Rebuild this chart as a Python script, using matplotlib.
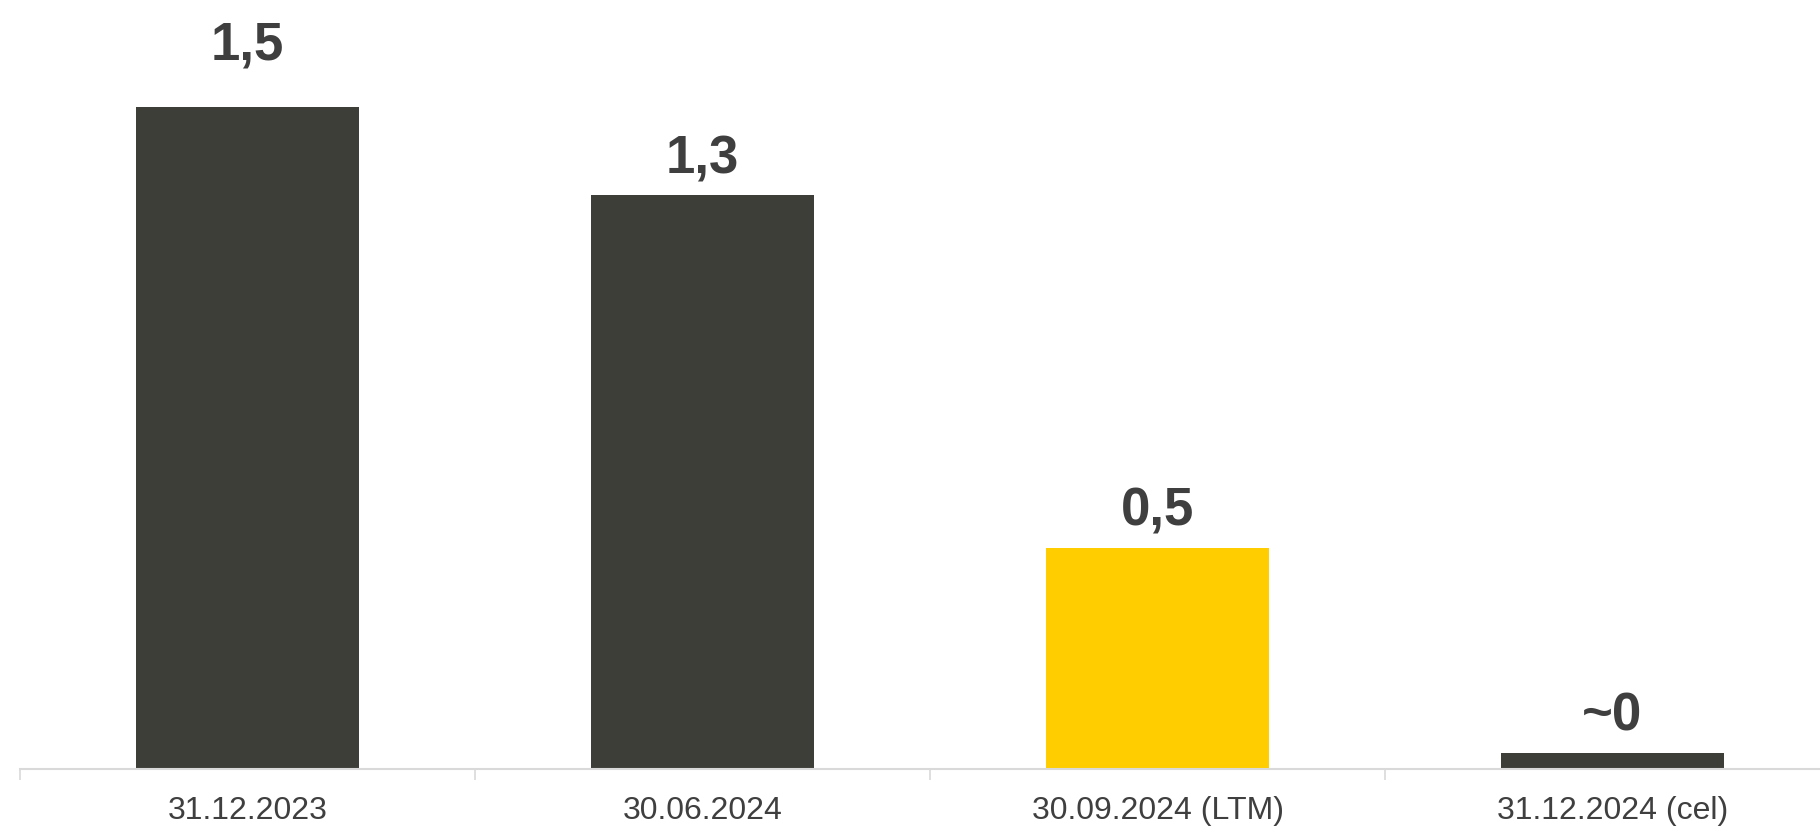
import matplotlib.pyplot as plt

categories = ["31.12.2023", "30.06.2024", "30.09.2024 (LTM)", "31.12.2024 (cel)"]
values = [1.5, 1.3, 0.5, 0.035]
labels = ["1,5", "1,3", "0,5", "~0"]
highlight = [False, False, True, False]

dark = "#3e3e39"
yellow = "#ffcd00"
text_color = "#3f3f3f"

plt.rcParams['font.family'] = ['Liberation Sans', 'DejaVu Sans']

fig = plt.figure(figsize=(18.2, 8.27), dpi=100)
# axes runs slightly past the right edge, as in the slide export
ax = fig.add_axes([20 / 1820, 1 - 768.5 / 827, 1820 / 1820, 768.5 / 827])

x = list(range(len(categories)))
colors = [yellow if h else dark for h in highlight]
bars = ax.bar(x, values, width=0.49, color=colors, zorder=2)

ax.set_xlim(-0.5, len(categories) - 0.5)
ax.set_ylim(0, 768.5 / 441)

label_pad = [26, 8, 8, 8]
for rect, lab, pad in zip(bars, labels, label_pad):
    ax.annotate(lab, (rect.get_x() + rect.get_width() / 2, rect.get_height()),
                xytext=(0, pad), textcoords="offset points",
                ha="center", va="bottom", fontsize=38, fontweight="bold",
                color=text_color)

for side in ["top", "right", "left"]:
    ax.spines[side].set_visible(False)
ax.spines["bottom"].set_color("#d9d9d9")
ax.spines["bottom"].set_linewidth(1.5)

ax.set_yticks([])
ax.set_xticks(x)
ax.set_xticklabels(categories, fontsize=23, color=text_color)
ax.tick_params(axis="x", which="major", length=0, pad=20)
ax.set_xticks([i - 0.5 for i in range(len(categories) + 1)], minor=True)
ax.tick_params(axis="x", which="minor", length=8, width=1.2, color="#d9d9d9")

plt.savefig("out.png", dpi=100)
plt.close()
